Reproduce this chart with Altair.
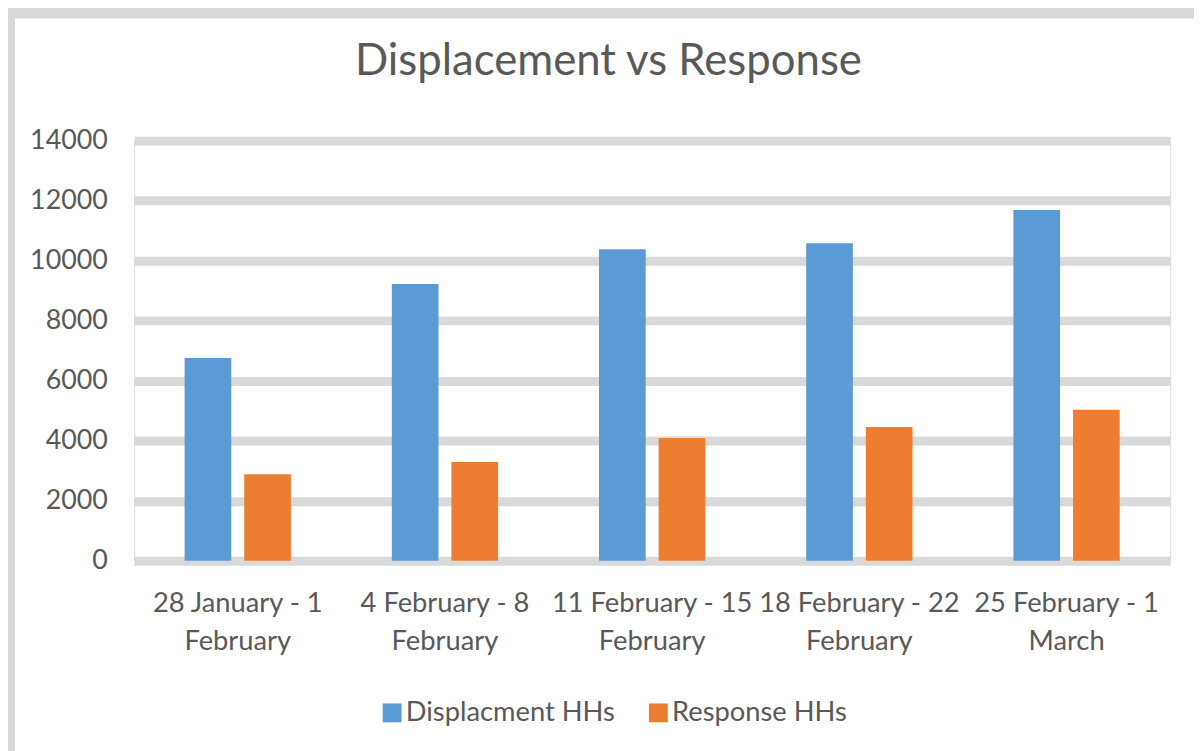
import altair as alt
import pandas as pd

categories = [
    "28 January - 1 February",
    "4 February - 8 February",
    "11 February - 15 February",
    "18 February - 22 February",
    "25 February - 1 March",
]
series = ["Displacment HHs", "Response HHs"]
displacement = [6760, 9220, 10380, 10580, 11690]
response = [2880, 3290, 4090, 4460, 5030]
y_ticks = [0, 2000, 4000, 6000, 8000, 10000, 12000, 14000]
colors = ["#5b9bd5", "#ed7d31"]

rows = []
for c, d, r in zip(categories, displacement, response):
    rows.append({"period": c, "series": series[0], "value": d})
    rows.append({"period": c, "series": series[1], "value": r})
df = pd.DataFrame(rows)

FONT = "Lato"
TEXT = "#595959"
GRID = "#d9d9d9"

W, H = 1043, 423

bars = alt.Chart(df).mark_bar().encode(
    x=alt.X("period:N", sort=categories,
            scale=alt.Scale(paddingInner=0.487, paddingOuter=0.2435),
            axis=alt.Axis(title=None, labelAngle=0, domain=False, ticks=False,
                          labelPadding=29, labelFontSize=27.5, labelColor=TEXT,
                          labelFont=FONT, labelLineHeight=38, labelLimit=0,
                          labelExpr="[substring(datum.label, 0, lastindexof(datum.label, ' ')), substring(datum.label, lastindexof(datum.label, ' ') + 1)]")),
    xOffset=alt.XOffset("series:N", sort=series,
                        scale=alt.Scale(paddingInner=0.217, paddingOuter=0)),
    y=alt.Y("value:Q",
            scale=alt.Scale(domain=[0, 14000], nice=False),
            axis=alt.Axis(title=None, values=y_ticks, domain=False, ticks=False,
                          format="d",
                          labelPadding=27, labelFontSize=27, labelColor=TEXT,
                          labelFont=FONT, gridColor=GRID, gridWidth=9,
                          gridOpacity=1)),
    color=alt.Color("series:N", sort=series,
                    scale=alt.Scale(domain=series, range=colors),
                    legend=alt.Legend(title=None, orient="none", direction="horizontal",
                                      legendX=246, legendY=562,
                                      symbolType="square", symbolSize=361,
                                      symbolStrokeWidth=0, labelFontSize=27.5,
                                      labelFont=FONT, labelColor=TEXT,
                                      labelLimit=0,
                                      columnPadding=29, labelOffset=0)),
)

frame = alt.Chart(pd.DataFrame({"k": [0]})).mark_rect(color=GRID).encode(
    x=alt.value(-128), x2=alt.value(1100), y=alt.value(-134), y2=alt.value(-123)
)
frame_left = alt.Chart(pd.DataFrame({"k": [0]})).mark_rect(color=GRID).encode(
    x=alt.value(-128), x2=alt.value(-120), y=alt.value(-134), y2=alt.value(700)
)

chart = alt.layer(frame, frame_left, bars).properties(
    width=W, height=H,
    title=alt.TitleParams("Displacement vs Response", fontSize=44, font=FONT,
                          color=TEXT, fontWeight="normal", anchor="middle",
                          baseline="alphabetic", dx=-44, dy=112, offset=0),
    padding={"left": 127, "top": 131, "right": 24, "bottom": 189},
    autosize=alt.AutoSizeParams(type="none"),
).configure_view(stroke=None).configure(background="white")

chart.save("out.html", embed_options={"renderer": "svg", "actions": False})
